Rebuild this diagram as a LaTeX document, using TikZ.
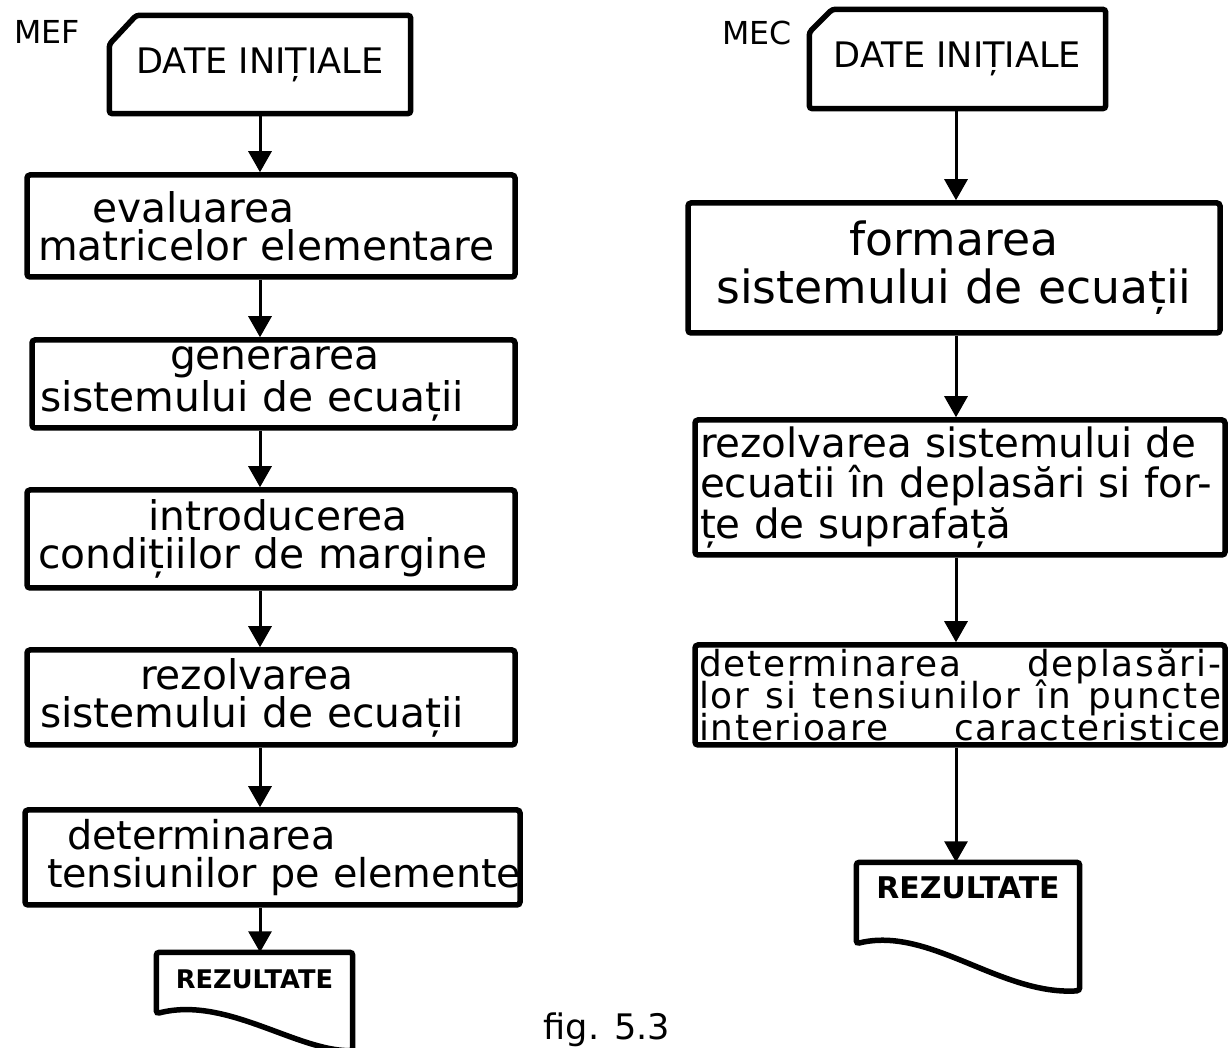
\documentclass[tikz,border=0pt]{standalone}
\usepackage{fontspec}
\setmainfont{DejaVu Sans}
\newfontfamily\spacedfont[LetterSpace=5]{DejaVu Sans}
\usetikzlibrary{arrows.meta,calc}

\begin{document}
\begin{tikzpicture}[x=0.1mm, y=-0.1mm,
  boxline/.style={line width=0.55mm, rounded corners=0.3mm},
  procbox/.style={draw, boxline, align=left, inner ysep=0mm,
    font=\fontsize{11.6pt}{10.8pt}\selectfont},
  cardnode/.style={inner sep=0mm, font=\fontsize{10pt}{12pt}\selectfont},
  docnode/.style={inner sep=0mm},
  flow/.style={line width=0.3mm, -{Triangle[width=2.3mm,length=2.1mm]}},
  tag/.style={inner sep=0mm, font=\fontsize{9pt}{11pt}\selectfont}
]
\useasboundingbox[fill=white] (0,0) rectangle (1231,1048);

% column guides for the vertical connectors
\coordinate (lx) at (260,0);
\coordinate (rx) at (956,0);

% ---------------- left flowchart (MEF) ----------------
\node[tag] (mef) at (47,32) {MEF};

\node[cardnode, minimum width=30mm, minimum height=9.7mm] (L0) at (260,64.5) {DATE INIȚIALE};
\draw[boxline] ([yshift=-2.9mm]L0.north west) -- ([xshift=2.7mm]L0.north west)
  -- (L0.north east) -- (L0.south east) -- (L0.south west) -- cycle;

\node[procbox, text width=46.6mm, inner xsep=1.1mm, minimum height=10.2mm] (L1) at (271,226)
  {\hspace*{5.4mm}evaluarea\\matricelor elementare};
\node[procbox, text width=46.7mm, inner xsep=0.8mm, minimum height=8.8mm] (L2) at (273.5,384)
  {\hspace*{13mm}generarea\\sistemului de ecuații};
\node[procbox, text width=46.6mm, inner xsep=1.1mm, minimum height=9.8mm] (L3) at (271,539)
  {\hspace*{11mm}introducerea\\condițiilor de margine};
\node[procbox, text width=46.2mm, inner xsep=1.3mm, minimum height=9.5mm] (L4) at (271,697.5)
  {\hspace*{10mm}rezolvarea\\sistemului de ecuații};
\node[procbox, text width=45.1mm, inner xsep=2.2mm, minimum height=9.5mm,
  font=\fontsize{11.3pt}{10.8pt}\selectfont] (L5) at (272.5,857.5)
  {\hspace*{2mm}determinarea\\\mbox{tensiunilor pe elemente}};

\node[docnode, minimum width=19.5mm, minimum height=5.2mm,
  font=\bfseries\fontsize{7.3pt}{9pt}\selectfont] (L6) at (254.5,979) {REZULTATE};
\draw[boxline] ($(L6.south west)+(0,8)$) -- (L6.north west) -- (L6.north east)
  -- ($(L6.south east)+(0,45)$)
  .. controls ($(L6.south east)+(-57,45)$) and ($(L6.south west)+(69,-10)$)
  .. ($(L6.south west)+(0,8)$) -- cycle;

\draw[flow] (L0.south -| lx) -- (L1.north -| lx);
\draw[flow] (L1.south -| lx) -- (L2.north -| lx);
\draw[flow] (L2.south -| lx) -- (L3.north -| lx);
\draw[flow] (L3.south -| lx) -- (L4.north -| lx);
\draw[flow] (L4.south -| lx) -- (L5.north -| lx);
\draw[flow] (L5.south -| lx) -- (L6.north -| lx);

% ---------------- right flowchart (MEC) ----------------
\node[tag] (mec) at (757,33) {MEC};

\node[cardnode, minimum width=29.5mm, minimum height=9.8mm] (R0) at (957.5,59) {DATE INIȚIALE};
\draw[boxline] ([yshift=-2.3mm]R0.north west) -- ([xshift=2.3mm]R0.north west)
  -- (R0.north east) -- (R0.south east) -- (R0.south west) -- cycle;

\node[procbox, align=center, text width=50mm, inner xsep=1.6mm, minimum height=13mm,
  font=\fontsize{13pt}{13.6pt}\selectfont] (R1) at (954,268)
  {formarea\\sistemului de ecuații};
\node[procbox, text width=52mm, inner xsep=0.5mm, minimum height=13.5mm,
  font=\fontsize{11.5pt}{11.4pt}\selectfont] (R2) at (960,487.5)
  {\makebox[52mm][s]{rezolvarea sistemului de}\\
   \makebox[52mm][s]{ecuatii în deplasări si for-}\\
   \makebox[34mm][s]{țe de suprafață}};
% three full-width lines, stacked at a fixed, close line pitch
\node[draw, boxline, inner xsep=0.4mm, inner ysep=0mm, minimum height=10mm,
  font=\spacedfont\fontsize{10.2pt}{9pt}\selectfont] (R3) at (960,695)
  {\vbox{\baselineskip=9pt\lineskiplimit=-20pt\lineskip=0pt
   \hbox to 52.2mm{determinarea\hfill deplasări-}
   \hbox to 52.2mm{lor\hfill si\hfill tensiunilor\hfill în\hfill puncte}
   \hbox to 52.2mm{interioare\hfill caracteristice}}};

\node[docnode, minimum width=22.2mm, minimum height=5mm,
  font=\bfseries\fontsize{8.5pt}{10pt}\selectfont] (R4) at (968,888) {REZULTATE};
\draw[boxline] ($(R4.south west)+(0,30)$) -- (R4.north west) -- (R4.north east)
  -- ($(R4.south east)+(0,77)$)
  .. controls ($(R4.south east)+(-79,82)$) and ($(R4.south west)+(73,12)$)
  .. ($(R4.south west)+(0,30)$) -- cycle;

\draw[flow] (R0.south -| rx) -- (R1.north -| rx);
\draw[flow] (R1.south -| rx) -- (R2.north -| rx);
\draw[flow] (R2.south -| rx) -- (R3.north -| rx);
\draw[flow] (R3.south -| rx) -- (R4.north -| rx);

% ---------------- caption ----------------
\node[tag, anchor=base west, font=\fontsize{10pt}{12pt}\selectfont] (cap) at (543,1040) {fig. 5.3};
\end{tikzpicture}
\end{document}
